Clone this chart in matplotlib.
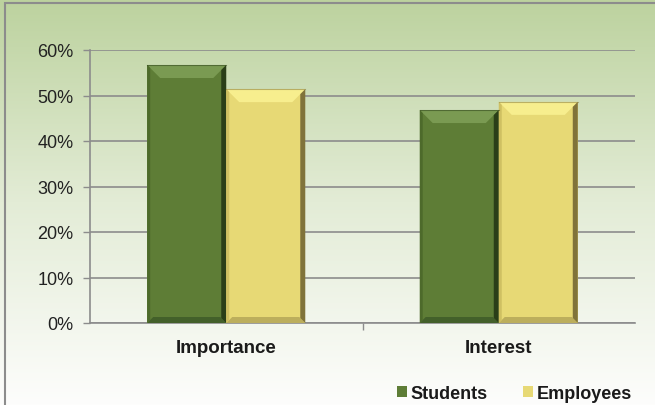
import numpy as np
import matplotlib.pyplot as plt
from matplotlib.patches import Polygon, Rectangle
from matplotlib.ticker import PercentFormatter
import matplotlib.colors as mcolors

plt.rcParams['font.family'] = ['Liberation Sans', 'DejaVu Sans']

categories = ['Importance', 'Interest']
students = [0.567, 0.468]
employees = [0.514, 0.486]
series_names = ['Students', 'Employees']

colors = {'Students': '#5e7d36', 'Employees': '#e7d975'}
bevel = {
    'Students': {'top': '#7a9a52', 'left': '#4d6a2b', 'right': '#2a3e18', 'bottom': '#43602a'},
    'Employees': {'top': '#f7ee8e', 'left': '#cfc062', 'right': '#80733a', 'bottom': '#bcae5c'},
}

fig = plt.figure(figsize=(6.55, 4.06), dpi=100)

# background gradient (green at top fading to white)
bg = fig.add_axes([0, 0, 1, 1], zorder=-10)
grad = np.linspace(0, 1, 256).reshape(-1, 1)
cmap = mcolors.LinearSegmentedColormap.from_list('bg', ['#fdfdfc', '#e3ecd6', '#bcd29e'])
bg.imshow(grad, aspect='auto', cmap=cmap, origin='lower', extent=[0, 1, 0, 1])
bg.add_patch(Rectangle((0.008, -0.01), 1.0, 1.0, transform=bg.transAxes,
                       fill=False, edgecolor='#8c8c8c', lw=1.5))
bg.set_xlim(0, 1)
bg.set_ylim(0, 1)
bg.axis('off')

ax_h = 273
ax_w = 545
ax = fig.add_axes([90 / 655, 1 - 324 / 406, ax_w / 655, ax_h / 406])
ax.patch.set_alpha(0)

x = np.arange(len(categories))
w = 0.29
bars_s = ax.bar(x - w / 2, students, w, color=colors['Students'], label='Students', zorder=3)
bars_e = ax.bar(x + w / 2, employees, w, color=colors['Employees'], label='Employees', zorder=3)

ax.set_xlim(-0.5, 1.5)
ax.set_ylim(0, 0.6)
px_x = 2.0 / ax_w
px_y = 0.6 / ax_h


def add_bevel(bars, name):
    b = bevel[name]
    for p in bars:
        x0, y0 = p.get_x(), p.get_y()
        x1, y1 = x0 + p.get_width(), y0 + p.get_height()
        t = 13
        ax.add_patch(Polygon([(x0, y1), (x1, y1), (x1 - t * px_x, y1 - t * px_y),
                              (x0 + t * px_x, y1 - t * px_y)],
                             closed=True, color=b['top'], lw=0, zorder=4))
        ax.add_patch(Polygon([(x0, y0), (x1, y0), (x1 - 6 * px_x, y0 + 6 * px_y),
                              (x0 + 6 * px_x, y0 + 6 * px_y)],
                             closed=True, color=b['bottom'], lw=0, zorder=4))
        ax.add_patch(Polygon([(x0, y1), (x0 + 3 * px_x, y1 - 3 * px_y),
                              (x0 + 3 * px_x, y0 + 3 * px_y), (x0, y0)],
                             closed=True, color=b['left'], lw=0, zorder=5))
        ax.add_patch(Polygon([(x1, y1), (x1 - 5 * px_x, y1 - 5 * px_y),
                              (x1 - 5 * px_x, y0 + 5 * px_y), (x1, y0)],
                             closed=True, color=b['right'], lw=0, zorder=5))
        ax.plot([x0, x1], [y1, y1], color=b['right'], lw=0.8, alpha=0.5, zorder=6)


add_bevel(bars_s, 'Students')
add_bevel(bars_e, 'Employees')

ax.set_yticks(np.arange(0, 0.61, 0.1))
ax.yaxis.set_major_formatter(PercentFormatter(1.0, decimals=0))
ax.yaxis.grid(True, color='#8c8c8c', lw=1.2, zorder=1)
ax.set_axisbelow(True)

ax.set_xticks([0.5])
ax.set_xticklabels([''])
ax.tick_params(axis='x', length=5, color='#8c8c8c', width=1)
ax.tick_params(axis='y', length=5, color='#8c8c8c', width=1, labelsize=13,
               labelcolor='#222222', pad=7)
for i, c in enumerate(categories):
    ax.text(x[i], -16 * px_y, c, ha='center', va='top', fontsize=13.5,
            fontweight='bold', color='#1a1a1a')

for s in ['top', 'right']:
    ax.spines[s].set_visible(False)
ax.spines['left'].set_color('#8c8c8c')
ax.spines['bottom'].set_color('#8c8c8c')
ax.spines['left'].set_linewidth(1.2)
ax.spines['bottom'].set_linewidth(1.2)

leg = fig.legend(handles=[bars_s, bars_e], labels=series_names, loc='lower right',
                 bbox_to_anchor=(0.99, -0.032), ncol=2, frameon=False,
                 prop={'weight': 'bold', 'size': 13}, handlelength=0.55, handleheight=0.55,
                 handletextpad=0.2, columnspacing=2.0, labelcolor='#1a1a1a')

fig.savefig('out.png', dpi=100)
